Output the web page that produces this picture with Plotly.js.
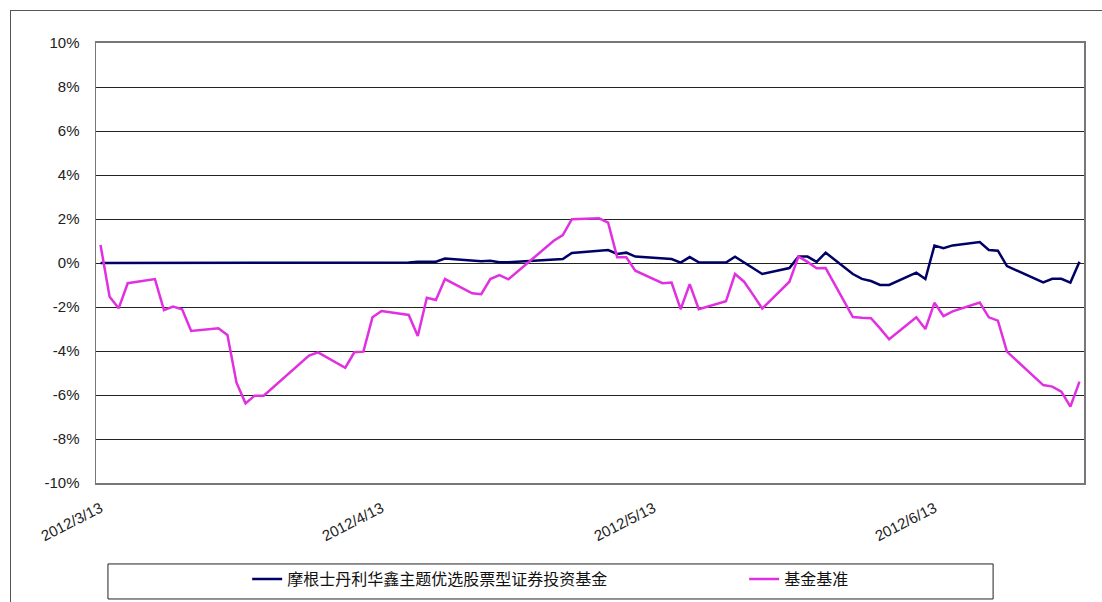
<!DOCTYPE html>
<html>
<head>
<meta charset="utf-8">
<script src="https://cdn.plot.ly/plotly-3.0.1.min.js"></script>
<style>
  html, body { margin: 0; padding: 0; background: #fff; }
  #wrap { position: relative; width: 1102px; height: 602px; overflow: hidden; }
  #chart { position: absolute; left: 0; top: 0; width: 1102px; height: 602px; }
  #frame { position: absolute; left: 10px; top: 10px; width: 1200px; height: 700px;
           border-top: 1px solid #555; border-left: 1px solid #555; pointer-events: none; }
</style>
</head>
<body>
<div id="wrap">
  <div id="chart"></div>
  <div id="frame"></div>
</div>
<script>
// trading dates (plus quarter-end 3/31)
const dates = [
  '2012-03-13','2012-03-14','2012-03-15','2012-03-16','2012-03-19','2012-03-20','2012-03-21','2012-03-22','2012-03-23',
  '2012-03-26','2012-03-27','2012-03-28','2012-03-29','2012-03-30','2012-03-31',
  '2012-04-05','2012-04-06','2012-04-09','2012-04-10','2012-04-11','2012-04-12','2012-04-13',
  '2012-04-16','2012-04-17','2012-04-18','2012-04-19','2012-04-20','2012-04-23','2012-04-24','2012-04-25','2012-04-26','2012-04-27',
  '2012-05-02','2012-05-03','2012-05-04','2012-05-07','2012-05-08','2012-05-09','2012-05-10','2012-05-11',
  '2012-05-14','2012-05-15','2012-05-16','2012-05-17','2012-05-18','2012-05-21','2012-05-22','2012-05-23','2012-05-24','2012-05-25',
  '2012-05-28','2012-05-29','2012-05-30','2012-05-31','2012-06-01',
  '2012-06-04','2012-06-05','2012-06-06','2012-06-07','2012-06-08','2012-06-11','2012-06-12','2012-06-13','2012-06-14','2012-06-15',
  '2012-06-18','2012-06-19','2012-06-20','2012-06-21','2012-06-25','2012-06-26','2012-06-27','2012-06-28','2012-06-29'
];

// 摩根士丹利华鑫主题优选股票型证券投资基金 (%)
const fundValues = [
  0,0,0,0,0,0,0,0,0,0,0,0,0,0,0,
  0,0,0,0,0,0,0,0.02,0.06,0.06,0.06,0.2,0.09,0.08,0.1,0.03,0.03,
  0.15,0.18,0.46,0.58,0.59,0.41,0.47,0.29,0.2,0.18,0.02,0.27,0.03,0.02,0.29,0.04,-0.22,-0.5,-0.23,0.29,0.29,0.05,
  0.47,-0.5,-0.72,-0.82,-1.0,-1.0,-0.44,-0.73,0.79,0.67,0.8,0.95,0.59,0.56,-0.14,-0.88,-0.72,-0.72,-0.89,0.06
];

// 基金基准 (%)
const benchValues = [
  0.82,-1.53,-2.06,-0.92,-0.73,-2.14,-1.98,-2.1,-3.09,-2.97,-3.27,-5.44,-6.38,-6.03,-6.03,
  -4.21,-4.06,-4.76,-4.06,-4.03,-2.47,-2.18,-2.36,-3.32,-1.58,-1.68,-0.73,-1.38,-1.42,-0.73,-0.55,-0.74,
  1.01,1.27,1.99,2.03,1.83,0.26,0.26,-0.35,-0.92,-0.89,-2.1,-0.96,-2.1,-1.74,-0.5,-0.85,-1.45,-2.07,-0.85,0.29,0.05,-0.24,
  -0.23,-2.46,-2.49,-2.51,-2.97,-3.47,-2.47,-3.0,-1.81,-2.41,-2.2,-1.8,-2.47,-2.62,-4.03,-5.55,-5.62,-5.85,-6.53,-5.39
];

const seriesNames = ['摩根士丹利华鑫主题优选股票型证券投资基金', '基金基准'];
const xTickVals = ['2012-03-13','2012-04-13','2012-05-13','2012-06-13'];
const xTickText = ['2012/3/13','2012/4/13','2012/5/13','2012/6/13'];
const yTickVals = [10,8,6,4,2,0,-2,-4,-6,-8,-10];
const yTickText = ['10%','8%','6%','4%','2%','0%','-2%','-4%','-6%','-8%','-10%'];

const traces = [
  { x: dates, y: fundValues, name: seriesNames[0], type: 'scatter', mode: 'lines',
    legendwidth: 452, line: { color: '#000066', width: 2.5 } },
  { x: dates, y: benchValues, name: seriesNames[1], type: 'scatter', mode: 'lines',
    legendwidth: 90, line: { color: '#e030e0', width: 2.5 } }
];

const layout = {
  width: 1102, height: 602,
  margin: { l: 96, r: 18, t: 43, b: 119, autoexpand: false },
  paper_bgcolor: 'rgba(0,0,0,0)', plot_bgcolor: '#fff',
  font: { family: 'Liberation Sans, Arial, sans-serif', size: 15, color: '#222' },
  showlegend: true,
  xaxis: {
    type: 'date', range: ['2012-03-12 12:00', '2012-06-29 12:00'],
    tickvals: xTickVals, ticktext: xTickText, tickangle: -27,
    showgrid: false, zeroline: false, ticks: '', automargin: false,
    showline: true, mirror: true, linecolor: '#777', linewidth: 2,
    ticklabelstandoff: 9,
    tickfont: { size: 15, color: '#222' }
  },
  yaxis: {
    range: [-10, 10], tickvals: yTickVals, ticktext: yTickText,
    showgrid: true, gridcolor: '#222', gridwidth: 1, zeroline: false,
    showline: true, mirror: true, linecolor: '#777', linewidth: 1.5,
    ticks: '', ticklabelstandoff: 12, automargin: false,
    tickfont: { size: 15, color: '#222' }
  },
  legend: {
    orientation: 'h', x: 0.153, xanchor: 'left', y: -0.18, yanchor: 'top',
    bgcolor: 'rgba(0,0,0,0)', borderwidth: 0,
    entrywidthmode: 'pixels',
    font: { family: 'Noto Sans CJK SC, sans-serif', size: 16, color: '#111' }
  },
  shapes: [
    { type: 'rect', xref: 'paper', yref: 'paper', x0: 0.0121, x1: 0.908, y0: -0.2636, y1: -0.184,
      line: { color: '#222', width: 1 }, fillcolor: 'rgba(0,0,0,0)', layer: 'below' }
  ]
};

Plotly.newPlot('chart', traces, layout, { displayModeBar: false, staticPlot: true });
</script>
</body>
</html>
